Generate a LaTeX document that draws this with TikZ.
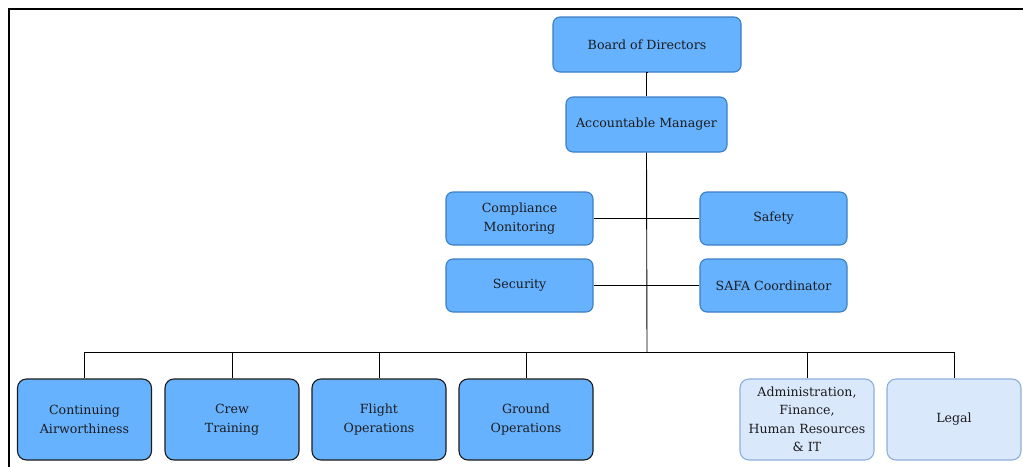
\documentclass[tikz,border=0pt]{standalone}
\usepackage{fontspec}
\setmainfont{DejaVu Serif}
\definecolor{boxblue}{HTML}{66B2FF}
\definecolor{boxedge}{HTML}{3C7FC4}
\definecolor{paleblue}{HTML}{DAE8FC}
\definecolor{paleedge}{HTML}{8EAEDB}
\definecolor{inkdark}{HTML}{1C1C1C}
\begin{document}
\begin{tikzpicture}[x=1pt,y=-1pt,
  unit/.style={draw=boxedge,fill=boxblue,rounded corners=7pt,line width=1.1pt,
    minimum width=#1,align=center,inner sep=2pt,font=\fontsize{12.6}{18.5}\selectfont,text=inkdark},
  unit/.default=147pt,
  dept/.style={draw=inkdark,fill=boxblue,rounded corners=9pt,line width=1.1pt,
    minimum width=134pt,minimum height=81pt,align=center,inner sep=2pt,
    font=\fontsize{12.6}{18.5}\selectfont,text=inkdark},
  support/.style={dept,draw=paleedge,fill=paleblue},
  link/.style={draw=black,line width=0.9pt}]
\useasboundingbox (0,0) rectangle (1023,466);
\fill[white] (0,0) rectangle (1023,466);
% outer frame, open to the right and below
\draw[line width=2pt] (9,470) -- (9,9) -- (1030,9);

% top of the hierarchy
\node[unit=188pt,minimum height=55pt] (board) at (647,44.5) {Board of Directors};
\node[unit=161pt,minimum height=55pt] (am) at (646.5,124.5) {Accountable Manager};

% staff functions beside the trunk
\node[unit,minimum height=53pt] (comp) at (519.5,218.5) {Compliance\\Monitoring};
\node[unit,minimum height=53pt] (safety) at (773.5,218.5) {Safety};
\node[unit,minimum height=53pt] (security) at (519.5,285.5) {Security};
\node[unit,minimum height=53pt] (safa) at (773.5,285.5) {SAFA Coordinator};

% departments
\node[dept] (cont) at (84.5,419.5) {Continuing\\Airworthiness};
\node[dept] (crew) at (232,419.5) {Crew\\Training};
\node[dept] (flight) at (379,419.5) {Flight\\Operations};
\node[dept] (ground) at (526,419.5) {Ground\\Operations};
\node[support] (admin) at (807,419.5) {Administration,\\Finance,\\Human Resources\\\& IT};
\node[support] (legal) at (954,419.5) {Legal};

\coordinate (bus) at (647,352);

% connectors
\draw[link] (board.south) -- (am.south |- board.south) -- (am.north);
\draw[link] (am.south) -- (bus);
\draw[link] (comp.east) -- (safety.west);
\draw[link] (security.east) -- (safa.west);
\draw[link] (cont.north) -- (cont.north |- bus) -- (legal.north |- bus) -- (legal.north);
\foreach \n in {crew,flight,ground,admin}
  \draw[link] (\n.north) -- (\n.north |- bus);
\end{tikzpicture}
\end{document}
